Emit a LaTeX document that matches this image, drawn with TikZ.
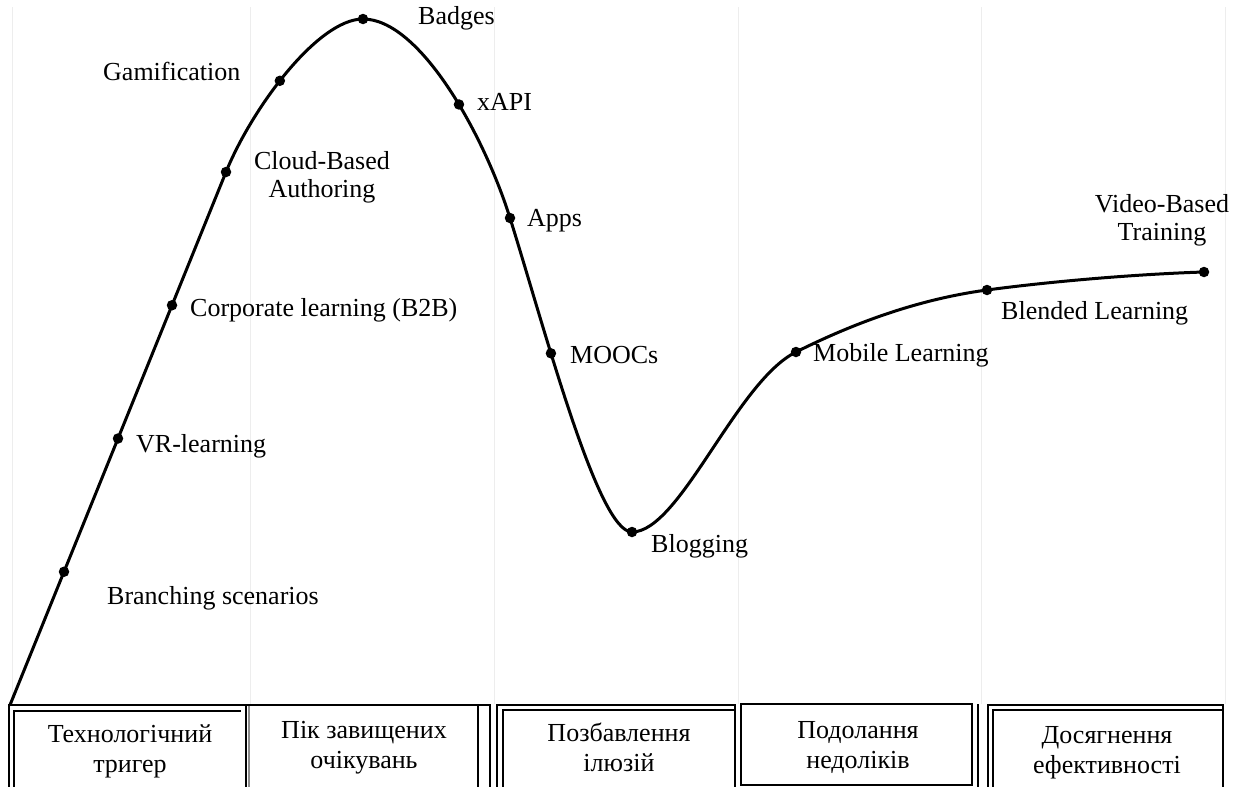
\documentclass[tikz,border=0pt]{standalone}
\usepackage{fontspec}
\setmainfont{Liberation Serif}
\begin{document}
\begin{tikzpicture}[x=1pt,y=-1pt,
  lbl/.style={inner sep=0pt, anchor=west, font=\fontsize{26}{29}\selectfont, align=center},
  clbl/.style={inner sep=0pt, font=\fontsize{26}{28}\selectfont, align=center},
  dotnode/.style={circle, fill=black, inner sep=0pt, minimum size=10.5pt},
  hype/.style={line width=3pt, line join=round, line cap=round},
  divider/.style={draw=black!7, line width=1pt},
  btext/.style={inner sep=0pt, font=\fontsize{26}{30}\selectfont, align=center},
  thickb/.style={line width=2.6pt},
  thinb/.style={line width=1.2pt}]
\useasboundingbox (0,0) rectangle (1248,787);
\clip (0,0) rectangle (1248,787);
\fill[white] (0,0) rectangle (1248,787);

% light dividers
\foreach \xx in {12,250,494,738,981,1225}
  \draw[divider] (\xx,7) -- (\xx,704);

% curve key points
\coordinate (s) at (10,705);
\coordinate (p4) at (226,172);
\coordinate (p6) at (363,19);
\coordinate (p8) at (510,218);
\coordinate (p10) at (632,532);
\coordinate (p11) at (796,352);
\coordinate (p12) at (987,290);
\coordinate (p13) at (1204,272);

\draw[hype] (s) -- node[dotnode, pos=0.25] (d1) {} node[dotnode, pos=0.5] (d2) {} node[dotnode, pos=0.75] (d3) {} (p4)
  .. controls (252,108) and (318,19) .. node[dotnode, pos=0.45] (d5) {} (p6)
  .. controls (420,19) and (484,135) .. node[dotnode, pos=0.57] (d7) {} (p8)
  .. controls (546,333) and (598,532) .. node[dotnode, pos=0.34] (d9) {} (p10)
  .. controls (680,532) and (736,382) .. (p11)
  .. controls (856,322) and (920,299) .. (p12)
  .. controls (1054,281) and (1140,274) .. (p13);

\foreach \pp in {p4,p6,p8,p10,p11,p12,p13}
  \node[dotnode] (d\pp) at (\pp) {};

% labels
\node[lbl] (lbranch) at (107,598) {Branching scenarios};
\node[lbl] (lvr) at (136,446) {VR-learning};
\node[lbl] (lcorp) at (190,310) {Corporate learning (B2B)};
\node[clbl] (lcloud) at (322,177) {Cloud-Based\\Authoring};
\node[lbl] (lgam) at (103,71) {Gamification};
\node[lbl] (lbadge) at (418,18) {Badges};
\node[lbl] (lxapi) at (477,102) {xAPI};
\node[lbl] (lapps) at (527,221) {Apps};
\node[lbl] (lmooc) at (570,355) {MOOCs};
\node[lbl] (lblog) at (651,546) {Blogging};
\node[lbl] (lmob) at (813,355) {Mobile Learning};
\node[lbl] (lblend) at (1001,313) {Blended Learning};
\node[clbl] (lvideo) at (1162,220) {Video-Based\\Training};

% phase boxes
\draw[thickb] (9,800) -- (9,705) -- (246,705) -- (246,800);
\draw[thinb] (14,800) -- (14,711) -- (241,711);

\draw[thinb, black!45] (249,705) -- (249,800);
\draw[thickb] (247,705) -- (490,705) -- (490,800);
\draw[thinb] (478,705) -- (478,800);

\draw[thickb] (497,800) -- (497,705) -- (735,705) -- (735,800);
\draw[thinb] (503,800) -- (503,710) -- (735,710);

\draw[thinb] (741,704) rectangle (972,785);
\draw[thickb] (978,704) -- (978,800);

\draw[thickb] (988,800) -- (988,705) -- (1223,705) -- (1223,800);
\draw[thinb] (993,800) -- (993,710) -- (1223,710);

\node[btext] (t1) at (130,751) {Технологічний\\тригер};
\node[btext] (t2) at (364,748) {Пік завищених\\очікувань};
\node[btext] (t3) at (619,747) {Позбавлення\\ілюзій};
\node[btext] (t4) at (858,747) {Подолання\\недоліків};
\node[btext] (t5) at (1107,753) {Досягнення\\ефективності};
\end{tikzpicture}
\end{document}
